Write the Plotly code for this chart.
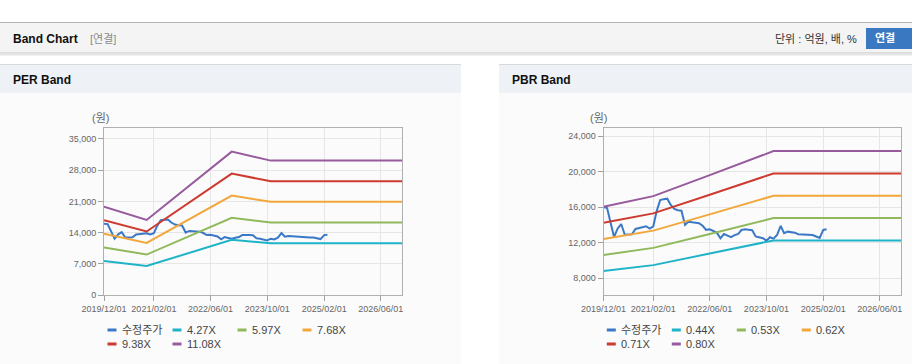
import pandas as pd
import plotly.graph_objects as go

W, H = 912, 364
FONT = "Liberation Sans, Noto Sans CJK KR, sans-serif"

# ---------------- data ----------------
price_start = "2019-12-01"
price = [16000, 15900, 14200, 12650, 13600, 14100, 12900, 12900, 12950, 13550,
         13650, 13750, 13850, 13600, 13850, 15500, 16800, 16900, 16950, 16250,
         15800, 15650, 15600, 14000, 14370, 14300, 14250, 14200, 13900, 13450,
         13500, 13350, 13130, 12500, 12980, 12800, 12620, 12850, 13000, 13430,
         13500, 13450, 13400, 12700, 12620, 12500, 12235, 12620, 12460, 12870,
         13885, 13065, 13245, 13200, 13130, 12960, 12950, 12900, 12870, 12870,
         12700, 12535, 13435, 13510]
price_dates = pd.date_range(price_start, periods=len(price), freq="MS")

per_dates = ["2019-12-01", "2020-12-01", "2022-12-01", "2023-11-01", "2026-12-01"]
per_427 = [7640, 6490, 12390, 11610, 11610]
per_597 = [10680, 9070, 17320, 16240, 16240]
per_768 = [13740, 11670, 22290, 20890, 20890]
per_938 = [16780, 14250, 27220, 25510, 25510]
per_1108 = [19820, 16830, 32150, 30140, 30140]

pbr_dates = ["2019-12-01", "2021-02-01", "2022-06-01", "2023-04-01",
             "2023-10-01", "2023-12-01", "2026-12-01"]
pbr_044 = [8820, 9480, 10780, 11590, 12100, 12260, 12260]
pbr_053 = [10630, 11420, 12990, 13970, 14580, 14770, 14770]
pbr_062 = [12430, 13360, 15190, 16340, 17050, 17280, 17280]
pbr_071 = [14240, 15300, 17400, 18710, 19530, 19790, 19790]
pbr_080 = [16040, 17240, 19600, 21080, 22000, 22300, 22300]

price_name = "수정주가"
per_names = ["4.27X", "5.97X", "7.68X", "9.38X", "11.08X"]
pbr_names = ["0.44X", "0.53X", "0.62X", "0.71X", "0.80X"]

x_tickvals = ["2019-12-01", "2021-02-01", "2022-06-01", "2023-10-01", "2025-02-01", "2026-06-01"]
x_ticktext = ["2019/12/01", "2021/02/01", "2022/06/01", "2023/10/01", "2025/02/01", "2026/06/01"]
per_yticks = [0, 7000, 14000, 21000, 28000, 35000]
pbr_yticks = [8000, 12000, 16000, 20000, 24000]

colors = ["#3b78c6", "#1fb3c8", "#8fb95a", "#f2a73c", "#cd3a30", "#975a9d"]

# ---------------- figure ----------------
fig = go.Figure()

per_series = [(price_name, price_dates, price)] + [
    (n, per_dates, v) for n, v in zip(per_names, [per_427, per_597, per_768, per_938, per_1108])]
pbr_series = [(price_name, price_dates, price)] + [
    (n, pbr_dates, v) for n, v in zip(pbr_names, [pbr_044, pbr_053, pbr_062, pbr_071, pbr_080])]

for (n, xs, ys), c in zip(per_series, colors):
    fig.add_trace(go.Scatter(x=xs, y=ys, name=n, mode="lines", line=dict(color=c, width=2),
                             xaxis="x", yaxis="y", showlegend=False, hoverinfo="skip"))
for (n, xs, ys), c in zip(pbr_series, colors):
    fig.add_trace(go.Scatter(x=xs, y=ys, name=n, mode="lines", line=dict(color=c, width=2),
                             xaxis="x2", yaxis="y2", showlegend=False, hoverinfo="skip"))


def px(x):
    return x / W


def py(y):
    return 1 - y / H


axis_common = dict(showline=True, linecolor="#b0b0b0", linewidth=1, mirror=True,
                   ticks="outside", ticklen=5, tickcolor="#a0a0a0", automargin=False,
                   showgrid=True, gridcolor="#e6e6e6", gridwidth=1, zeroline=False,
                   tickfont=dict(family=FONT, size=9, color="#666666"), fixedrange=True)

xcommon = dict(axis_common, type="date", range=["2019-12-01", "2026-12-01"],
               tickmode="array", tickvals=x_tickvals, ticktext=x_ticktext)

ydom = [py(295), py(128)]
fig.update_layout(
    width=W, height=H, autosize=False,
    margin=dict(l=0, r=0, t=0, b=0, pad=0, autoexpand=False),
    paper_bgcolor="#ffffff", plot_bgcolor="#ffffff", showlegend=False,
    xaxis=dict(xcommon, domain=[px(104), px(402)], anchor="y"),
    yaxis=dict(axis_common, domain=ydom, anchor="x", range=[0, 37450],
               tickmode="array", tickvals=per_yticks, tickformat=",d"),
    xaxis2=dict(xcommon, domain=[px(603.5), px(901)], anchor="y2"),
    yaxis2=dict(axis_common, domain=ydom, anchor="x2", range=[6120, 24900],
                tickmode="array", tickvals=pbr_yticks, tickformat=",d"),
)

shapes = []
annotations = []


def rect(x0, y0, x1, y1, fill, line=None):
    shapes.append(dict(type="rect", xref="paper", yref="paper", x0=px(x0), x1=px(x1),
                       y0=py(y1), y1=py(y0), fillcolor=fill, layer="below",
                       line=dict(width=1 if line else 0, color=line or fill)))


def hline(x0, x1, y, color, width=1):
    shapes.append(dict(type="line", xref="paper", yref="paper", x0=px(x0), x1=px(x1),
                       y0=py(y), y1=py(y), layer="below", line=dict(color=color, width=width)))


def text(x, y, s, size=11, color="#333333", anchor="left", bold=False):
    annotations.append(dict(xref="paper", yref="paper", x=px(x), y=py(y), text=("<b>%s</b>" % s) if bold else s,
                            showarrow=False, xanchor=anchor, yanchor="middle",
                            font=dict(family=FONT, size=size, color=color)))


# top bar
rect(0, 22.5, 912, 53, "#f4f4f4")
hline(0, 912, 22.5, "#b4b4b4")
hline(0, 912, 53, "#c4c4c4")
hline(0, 912, 54.5, "#e6e6e6", 2)
text(11, 39, "Band Chart", size=12, color="#111111", bold=True)
text(88, 39, "[연결]", size=11, color="#8a8a8a")
text(859, 39, "단위 : 억원, 배, %", size=11, color="#333333", anchor="right")
rect(866, 28, 912, 49, "#3a79c2")
text(885, 38.5, "연결", size=11, color="#ffffff", anchor="center", bold=True)

# panels
for x0, x1, title in [(0, 461, "PER Band"), (499, 912, "PBR Band")]:
    rect(x0, 93, x1, 364, "#fbfbfb")
    rect(x0, 64.5, x1, 93, "#eef2f7")
    hline(x0, x1, 64.5, "#d8d8d8")
    text(x0 + 11, 80, title, size=12, color="#111111", bold=True)

text(100, 118, "(원)", size=11, color="#666666", anchor="center")
text(598, 118, "(원)", size=11, color="#666666", anchor="center")


# legends drawn from the series names/colours
def legend(x_start, names):
    allnames = [price_name] + names
    for i, (n, c) in enumerate(zip(allnames, colors)):
        row, col = divmod(i, 4)
        x = x_start + col * 65
        y = 330 + row * 14
        shapes.append(dict(type="line", xref="paper", yref="paper", x0=px(x), x1=px(x + 9),
                           y0=py(y), y1=py(y), line=dict(color=c, width=3)))
        text(x + 12.5, y, n, size=11, color="#444444")


legend(107.5, per_names)
legend(606.8, pbr_names)

fig.update_layout(shapes=shapes, annotations=annotations)
fig.write_html("out.html", config={"displayModeBar": False},
               post_script="document.body.style.margin='0';document.body.style.padding='0';")
